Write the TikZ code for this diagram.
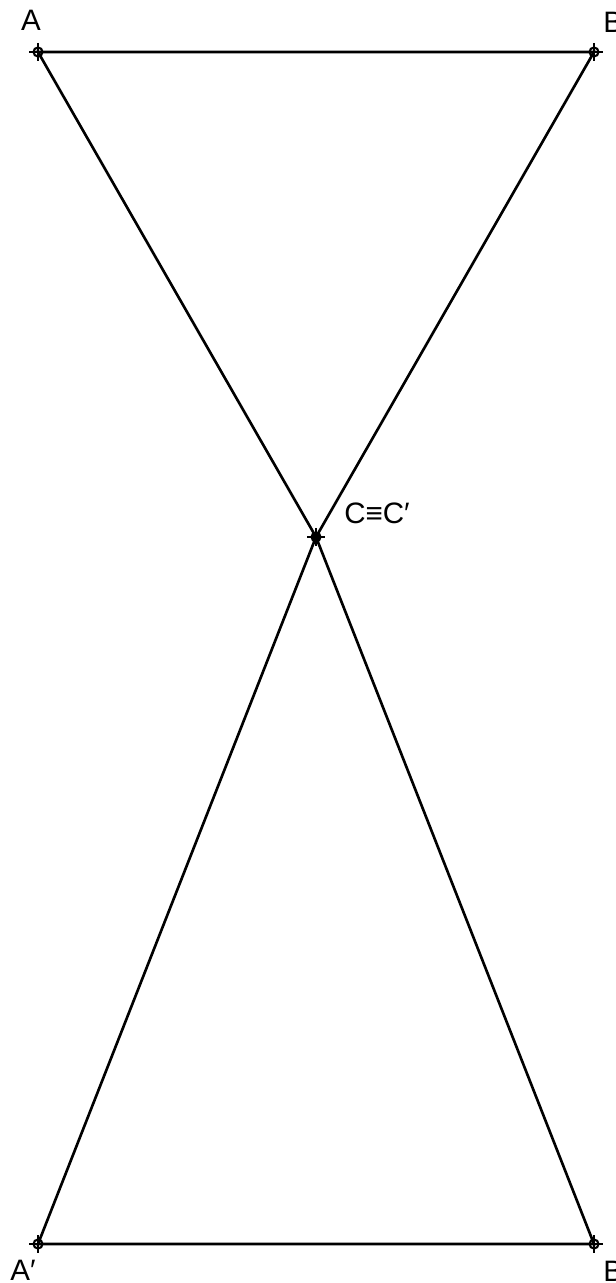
\documentclass[tikz,border=0pt]{standalone}
\usepackage{fontspec}
\setmainfont{Liberation Sans}
\begin{document}
\begin{tikzpicture}[x=0.01cm,y=-0.01cm,line width=0.75pt,
    lbl/.style={inner sep=0pt,font=\fontsize{8.4}{9}\selectfont}]
    \useasboundingbox (0,0) rectangle (616,1283);

    % Points
    \coordinate (A) at (38,52);
    \coordinate (B) at (594,52);
    \coordinate (C) at (316,537);
    \coordinate (A1) at (38,1244);
    \coordinate (B1) at (594,1244);

    % Triangles
    \draw (A) -- (B) -- (C) -- cycle;
    \draw (C) -- (A1) -- (B1) -- cycle;

    % Marks
    \foreach \p in {A,B,C,A1,B1}{
        \draw[line width=0.6pt] (\p) circle (4.5);
        \draw[line width=0.6pt] (\p) ++(-9,0) -- ++(18,0);
        \draw[line width=0.6pt] (\p) ++(0,-9) -- ++(0,18);
    }
    \fill (C) circle (4.5);

    % Labels
    \node[lbl] (lA) at (31,20) {A};
    \node[lbl,anchor=west] (lB) at (602,22) {B};
    \node[lbl,anchor=west] (lC) at (343,513) {C≡C′};
    \node[lbl,anchor=west] (lA1) at (9,1270) {A′};
    \node[lbl,anchor=west] (lB1) at (602,1271) {B′};
\end{tikzpicture}
\end{document}
